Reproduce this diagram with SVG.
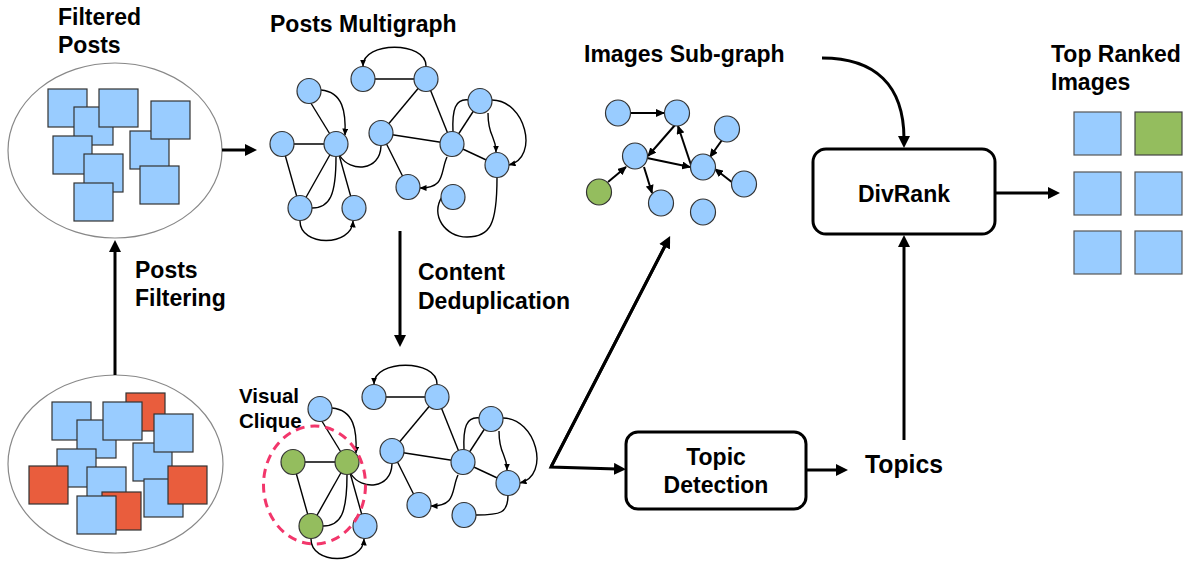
<svg xmlns="http://www.w3.org/2000/svg" width="1188" height="561" viewBox="0 0 1188 561">
<style>
text{font-family:"Liberation Sans",Arial,sans-serif;font-weight:bold;fill:#000;}
.t23{font-size:23px;}
.t20{font-size:20.5px;}
.sq{fill:#99ccff;stroke:#333;stroke-width:1.2;}
.rd{fill:#e95d3d;stroke:#333;stroke-width:1.2;}
.gq{fill:#94bd5e;stroke:#444;stroke-width:1.2;}
.bq{fill:#99ccff;stroke:#555;stroke-width:1.2;}
.cloud{fill:#fff;stroke:#888;stroke-width:1.2;}
.n{fill:#99ccff;stroke:#333;stroke-width:1.2;}
.g{fill:#94bd5e;stroke:#333;stroke-width:1.2;}
.e{fill:none;stroke:#000;stroke-width:1.4;}
.ea{fill:none;stroke:#000;stroke-width:1.4;marker-end:url(#sm);}
.ia{fill:none;stroke:#000;stroke-width:2;marker-end:url(#md);}
.ma{fill:none;stroke:#000;stroke-width:3;marker-end:url(#big);}
.box{fill:#fff;stroke:#000;stroke-width:3;}
</style>
<defs>
<marker id="big" viewBox="0 0 12 12" refX="3" refY="6" markerWidth="12" markerHeight="12" markerUnits="userSpaceOnUse" orient="auto"><path d="M0,0 L12,6 L0,12 z" fill="#000"/></marker>
<marker id="sm" viewBox="0 0 7 6" refX="6.5" refY="3" markerWidth="7" markerHeight="6" markerUnits="userSpaceOnUse" orient="auto"><path d="M0,0 L7,3 L0,6 z" fill="#000"/></marker>
<marker id="md" viewBox="0 0 9 8" refX="8" refY="4" markerWidth="9" markerHeight="8" markerUnits="userSpaceOnUse" orient="auto"><path d="M0,0 L9,4 L0,8 z" fill="#000"/></marker>
</defs>

<rect width="1188" height="561" fill="#fff"/>

<!-- Filtered posts -->
<g id="filtered-posts">
<ellipse class="cloud" cx="115" cy="150.5" rx="107" ry="87.5"/>
<rect class="sq" x="48" y="89" width="39" height="38"/>
<rect class="sq" x="74" y="107" width="39" height="38"/>
<rect class="sq" x="99" y="89" width="39" height="38"/>
<rect class="sq" x="53" y="136" width="39" height="38"/>
<rect class="sq" x="84" y="154" width="39" height="38"/>
<rect class="sq" x="74" y="183" width="39" height="38"/>
<rect class="sq" x="130" y="131" width="39" height="38"/>
<rect class="sq" x="151" y="101" width="39" height="38"/>
<rect class="sq" x="140" y="166" width="39" height="38"/>
<text class="t23" x="58" y="25">Filtered</text>
<text class="t23" x="58" y="53">Posts</text>
</g>

<!-- All posts -->
<g id="all-posts">
<ellipse class="cloud" cx="115.5" cy="464" rx="107.5" ry="89"/>
<rect class="rd" x="126" y="393" width="39" height="38"/>
<rect class="sq" x="133" y="443" width="39" height="38"/>
<rect class="sq" x="154" y="414" width="39" height="38"/>
<rect class="sq" x="52" y="402" width="39" height="38"/>
<rect class="sq" x="77" y="420" width="39" height="38"/>
<rect class="sq" x="57" y="449" width="39" height="38"/>
<rect class="sq" x="103" y="402" width="39" height="38"/>
<rect class="rd" x="29" y="466" width="39" height="38"/>
<rect class="sq" x="87" y="467" width="39" height="38"/>
<rect class="rd" x="102" y="492" width="39" height="38"/>
<rect class="sq" x="77" y="496" width="39" height="38"/>
<rect class="sq" x="144" y="479" width="39" height="38"/>
<rect class="rd" x="168" y="466" width="39" height="38"/>
</g>

<g id="label-posts-filtering">
<text class="t23" x="135" y="278">Posts</text>
<text class="t23" x="135" y="306">Filtering</text>
</g>

<g id="label-content-dedup">
<text class="t23" x="418" y="280">Content</text>
<text class="t23" x="418" y="309">Deduplication</text>
</g>

<!-- Posts multigraph -->
<g id="posts-multigraph">
<text class="t23" x="270" y="32">Posts Multigraph</text>
<g id="mg-edges">
<line class="e" x1="363" y1="79" x2="426" y2="79"/>
<line class="e" x1="426" y1="79" x2="381" y2="133"/>
<line class="e" x1="426" y1="79" x2="452" y2="144"/>
<line class="e" x1="381" y1="133" x2="452" y2="144"/>
<line class="e" x1="381" y1="133" x2="408" y2="187"/>
<line class="e" x1="309" y1="100" x2="336" y2="144"/>
<line class="e" x1="282" y1="144" x2="336" y2="144"/>
<line class="e" x1="282" y1="144" x2="300" y2="208"/>
<line class="e" x1="336" y1="144" x2="300" y2="208"/>
<line class="e" x1="336" y1="144" x2="354" y2="208"/>
<line class="e" x1="452" y1="144" x2="480" y2="101"/>
<line class="e" x1="452" y1="144" x2="497" y2="165"/>
<path class="ea" d="M426 66 C426 41 363 41 363 66"/>
<path class="ea" d="M321 90 C343 92 346 112 345 135"/>
<path class="ea" d="M300 221 C300 247 352 247 353 221"/>
<path class="ea" d="M488 113 C488 138 496 135 496 152"/>
<path class="ea" d="M492 100 C525 100 540 157 509 165"/>
<path class="e" d="M469 100 C455 98 452 110 453 132"/>
<path class="ea" d="M447 157 C440 172 446 188 420 188"/>
<path class="e" d="M497 178 C497 225 490 237 467 237 C445 237 430 215 442 197"/>
<path class="e" d="M340 156 C350 172 380 172 381 146"/>
<path class="e" d="M336 157 C336 195 330 208 312 208"/>
</g>
<g id="mg-n1"><ellipse class="n" cx="309" cy="91" rx="12" ry="12.5"/></g>
<g id="mg-n2"><ellipse class="n" cx="282" cy="144" rx="12" ry="12.5"/></g>
<g id="mg-n3"><ellipse class="n" cx="336" cy="144" rx="12" ry="12.5"/></g>
<g id="mg-n4"><ellipse class="n" cx="300" cy="208" rx="12" ry="12.5"/></g>
<g id="mg-n5"><ellipse class="n" cx="354" cy="208" rx="12" ry="12.5"/></g>
<g id="mg-n6"><ellipse class="n" cx="363" cy="79" rx="12" ry="12.5"/></g>
<g id="mg-n7"><ellipse class="n" cx="426" cy="79" rx="12" ry="12.5"/></g>
<g id="mg-n8"><ellipse class="n" cx="381" cy="133" rx="12" ry="12.5"/></g>
<g id="mg-n9"><ellipse class="n" cx="452" cy="144" rx="12" ry="12.5"/></g>
<g id="mg-n10"><ellipse class="n" cx="480" cy="101" rx="12" ry="12.5"/></g>
<g id="mg-n11"><ellipse class="n" cx="497" cy="165" rx="12" ry="12.5"/></g>
<g id="mg-n12"><ellipse class="n" cx="408" cy="187" rx="12" ry="12.5"/></g>
<g id="mg-n13"><ellipse class="n" cx="453" cy="197" rx="12" ry="12.5"/></g>
</g>

<!-- Deduplicated graph -->
<g id="dedup-graph">
<g transform="translate(11,318)">
<g id="dg-edges">
<line class="e" x1="363" y1="79" x2="426" y2="79"/>
<line class="e" x1="426" y1="79" x2="381" y2="133"/>
<line class="e" x1="426" y1="79" x2="452" y2="144"/>
<line class="e" x1="381" y1="133" x2="452" y2="144"/>
<line class="e" x1="381" y1="133" x2="408" y2="187"/>
<line class="e" x1="309" y1="100" x2="336" y2="144"/>
<line class="e" x1="282" y1="144" x2="336" y2="144"/>
<line class="e" x1="282" y1="144" x2="300" y2="208"/>
<line class="e" x1="336" y1="144" x2="300" y2="208"/>
<line class="e" x1="336" y1="144" x2="354" y2="208"/>
<line class="e" x1="452" y1="144" x2="480" y2="101"/>
<line class="e" x1="452" y1="144" x2="497" y2="165"/>
<path class="ea" d="M426 66 C426 41 363 41 363 66"/>
<path class="ea" d="M321 90 C343 92 346 112 345 135"/>
<path class="ea" d="M300 221 C300 247 352 247 353 221"/>
<path class="ea" d="M488 113 C488 138 496 135 496 152"/>
<path class="ea" d="M492 100 C525 100 540 157 509 165"/>
<path class="e" d="M469 100 C455 98 452 110 453 132"/>
<path class="ea" d="M447 157 C440 172 446 188 420 188"/>
<path class="e" d="M497 177 C497 195 490 197 465 197"/>
<path class="e" d="M340 156 C350 172 380 172 381 146"/>
<path class="e" d="M336 157 C336 195 330 208 312 208"/>
</g>
<g id="dg-n1"><ellipse class="n" cx="309" cy="91" rx="12" ry="12.5"/></g>
<g id="dg-n2"><ellipse class="g" cx="282" cy="144" rx="12" ry="12.5"/></g>
<g id="dg-n3"><ellipse class="g" cx="336" cy="144" rx="12" ry="12.5"/></g>
<g id="dg-n4"><ellipse class="g" cx="300" cy="208" rx="12" ry="12.5"/></g>
<g id="dg-n5"><ellipse class="n" cx="354" cy="208" rx="12" ry="12.5"/></g>
<g id="dg-n6"><ellipse class="n" cx="363" cy="79" rx="12" ry="12.5"/></g>
<g id="dg-n7"><ellipse class="n" cx="426" cy="79" rx="12" ry="12.5"/></g>
<g id="dg-n8"><ellipse class="n" cx="381" cy="133" rx="12" ry="12.5"/></g>
<g id="dg-n9"><ellipse class="n" cx="452" cy="144" rx="12" ry="12.5"/></g>
<g id="dg-n10"><ellipse class="n" cx="480" cy="101" rx="12" ry="12.5"/></g>
<g id="dg-n11"><ellipse class="n" cx="497" cy="165" rx="12" ry="12.5"/></g>
<g id="dg-n12"><ellipse class="n" cx="408" cy="187" rx="12" ry="12.5"/></g>
<g id="dg-n13"><ellipse class="n" cx="453" cy="197" rx="12" ry="12.5"/></g>
</g>
<g id="visual-clique">
<ellipse cx="314.5" cy="485" rx="51" ry="59" fill="none" stroke="#f2366b" stroke-width="3" stroke-dasharray="9 6"/>
<text class="t20" x="239" y="403">Visual</text>
<text class="t20" x="239" y="428">Clique</text>
</g>
</g>

<!-- Images sub-graph -->
<g id="images-subgraph">
<text class="t23" x="584" y="62">Images Sub-graph</text>
<g id="ig-edges">
<line class="ia" x1="631" y1="113" x2="664" y2="113"/>
<line class="ia" x1="675" y1="125" x2="648" y2="156"/>
<line class="ia" x1="647" y1="158" x2="690" y2="167"/>
<line class="ia" x1="691" y1="165" x2="678" y2="126"/>
<line class="ia" x1="722" y1="140" x2="710" y2="157"/>
<line class="ia" x1="733" y1="183" x2="715" y2="169"/>
<line class="ia" x1="608" y1="182" x2="626" y2="167"/>
<line class="ia" x1="644" y1="167" x2="652" y2="193"/>
</g>
<g id="ig-n1"><ellipse class="n" cx="618" cy="113" rx="12.5" ry="13"/></g>
<g id="ig-n2"><ellipse class="n" cx="677" cy="113" rx="12.5" ry="13"/></g>
<g id="ig-n3"><ellipse class="n" cx="727" cy="129" rx="12.5" ry="13"/></g>
<g id="ig-n4"><ellipse class="n" cx="635" cy="156" rx="12.5" ry="13"/></g>
<g id="ig-n5"><ellipse class="n" cx="703" cy="167" rx="12.5" ry="13"/></g>
<g id="ig-n6"><ellipse class="g" cx="599" cy="192" rx="12.5" ry="13"/></g>
<g id="ig-n7"><ellipse class="n" cx="744" cy="184" rx="12.5" ry="13"/></g>
<g id="ig-n8"><ellipse class="n" cx="661" cy="203" rx="12.5" ry="13"/></g>
<g id="ig-n9"><ellipse class="n" cx="703" cy="212" rx="12.5" ry="13"/></g>
</g>

<g id="topic-detection">
<rect class="box" x="626" y="432" width="180" height="77" rx="12"/>
<text class="t23" x="716" y="465" text-anchor="middle">Topic</text>
<text class="t23" x="716" y="493" text-anchor="middle">Detection</text>
</g>

<g id="topics">
<text x="865" y="473" font-size="26" textLength="78" lengthAdjust="spacingAndGlyphs">Topics</text>
</g>

<g id="divrank">
<rect class="box" x="813" y="149" width="182" height="85" rx="13"/>
<text class="t23" x="904" y="202" text-anchor="middle">DivRank</text>
</g>

<g id="top-ranked">
<text class="t23" x="1051" y="62">Top Ranked</text>
<text class="t23" x="1051" y="90">Images</text>
<rect class="bq" x="1074" y="112" width="47" height="43"/>
<rect class="gq" x="1135" y="112" width="47" height="43"/>
<rect class="bq" x="1074" y="172" width="47" height="43"/>
<rect class="bq" x="1135" y="172" width="47" height="43"/>
<rect class="bq" x="1074" y="231" width="47" height="43"/>
<rect class="bq" x="1135" y="231" width="47" height="43"/>
</g>

<g id="connectors">
<line class="ma" x1="222" y1="150" x2="248" y2="150"/>
<line class="ma" x1="115" y1="375" x2="115" y2="249"/>
<line class="ma" x1="400" y1="231" x2="400" y2="338"/>
<path class="ma" d="M666 244 L551 467 L617 469" stroke-linejoin="miter"/>
<line class="ma" x1="551" y1="467" x2="666" y2="244"/>
<line class="ma" x1="806" y1="470" x2="839" y2="470"/>
<line class="ma" x1="904" y1="440" x2="904" y2="244"/>
<path class="ma" d="M822 58 C875 58 904 85 904 139"/>
<line class="ma" x1="995" y1="193" x2="1051" y2="193"/>
</g>
</svg>
